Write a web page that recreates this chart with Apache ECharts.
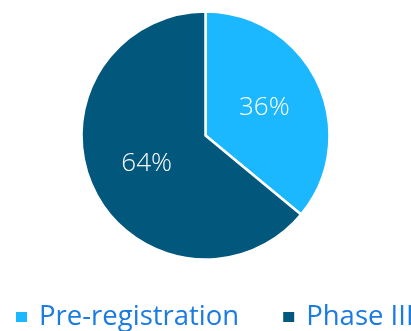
<!DOCTYPE html>
<html>
<head>
<meta charset="utf-8">
<style>
  html, body { margin: 0; padding: 0; background: #fff; }
  #chart { width: 411px; height: 331px; }
</style>
<script src="https://cdn.jsdelivr.net/npm/echarts@6/dist/echarts.min.js"></script>
</head>
<body>
<div id="chart"></div>
<script>
// Share of pipeline by development stage
const categories = ['Pre-registration', 'Phase III'];
const shares = [36, 64];
const colors = ['#1cb8ff', '#02587c'];

const chart = echarts.init(document.getElementById('chart'), null, { renderer: 'canvas' });
chart.setOption({
  animation: false,
  color: colors,
  legend: {
    data: categories,
    top: 303,
    left: 14,
    width: 400,
    padding: 0,
    icon: 'rect',
    itemWidth: 13,
    itemHeight: 12,
    itemGap: 42,
    textStyle: {
      color: '#1a7be0',
      fontSize: 27.5,
      fontFamily: 'Open Sans',
      padding: [0, 0, 0, 6]
    }
  },
  series: [{
    type: 'pie',
    radius: 124,
    center: [205.5, 135.5],
    startAngle: 90,
    clockwise: true,
    itemStyle: { borderColor: '#fff', borderWidth: 2.5 },
    label: {
      show: true,
      position: 'inside',
      formatter: '{c}%',
      color: '#fff',
      fontSize: 26,
      fontFamily: 'Open Sans',
      fontWeight: 300
    },
    labelLine: { show: false },
    data: categories.map((name, i) => ({ name, value: shares[i] }))
  }]
});
</script>
</body>
</html>
